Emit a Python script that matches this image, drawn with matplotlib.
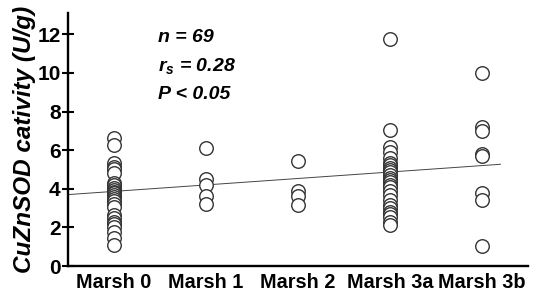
import matplotlib
matplotlib.use("Agg")
import matplotlib.pyplot as plt

categories = ["Marsh 0", "Marsh 1", "Marsh 2", "Marsh 3a", "Marsh 3b"]
marsh0 = [6.64, 6.29, 5.31, 5.15, 5.02, 4.79, 4.3, 4.19, 4.05, 3.93, 3.85, 3.76, 3.67,
          3.59, 3.45, 3.36, 3.2, 3.07, 2.64, 2.5, 2.29, 2.15, 2.03, 1.78, 1.43, 1.09]
marsh1 = [6.1, 4.5, 4.2, 3.6, 3.2]
marsh2 = [5.45, 3.9, 3.6, 3.15]
marsh3a = [11.74, 7.05, 6.17, 5.91, 5.57, 5.35, 5.22, 5.1, 4.97, 4.85, 4.7, 4.55, 4.45,
           4.36, 4.2, 4.1, 3.9, 3.67, 3.4, 3.16, 3.0, 2.81, 2.7, 2.55, 2.3, 2.12]
marsh3b = [10.0, 7.2, 7.0, 5.8, 5.7, 3.8, 3.4, 1.05]
groups = [marsh0, marsh1, marsh2, marsh3a, marsh3b]

fit_intercept = 3.53
fit_slope = 0.334
fit_x_range = [0.5, 5.2]

yticks = [0, 2, 4, 6, 8, 10, 12]

plt.rcParams['font.family'] = ['Liberation Sans', 'DejaVu Sans']
plt.rcParams['mathtext.fontset'] = 'custom'
plt.rcParams['mathtext.rm'] = 'Liberation Sans:italic:bold'
plt.rcParams['mathtext.it'] = 'Liberation Sans:italic:bold'
plt.rcParams['mathtext.bf'] = 'Liberation Sans:italic:bold'

fig = plt.figure(figsize=(5.41, 2.91), dpi=100)
ax = fig.add_axes([0.1257, 0.0859, 0.976 - 0.1257, 0.9553 - 0.0859])

for i, vals in enumerate(groups):
    ax.scatter([i + 1] * len(vals), vals, s=95, facecolors='white',
               edgecolors='#333333', linewidths=1.0, zorder=3)

lx = fit_x_range
ly = [fit_intercept + fit_slope * x for x in lx]
ax.plot(lx, ly, color='#444444', linewidth=0.7, zorder=2)

ax.set_xlim(0.5, 5.5)
ax.set_ylim(0, 13.1)
ax.set_xticks(range(1, len(categories) + 1))
ax.set_xticklabels(categories, fontsize=14.3, fontweight='bold')
ax.set_yticks(yticks)
ax.set_yticklabels([str(t) for t in yticks], fontsize=15, fontweight='bold')
ax.tick_params(axis='x', length=0, pad=5)
ax.tick_params(axis='y', direction='inout', length=8.5, width=1.5, pad=1)

for s in ['top', 'right']:
    ax.spines[s].set_visible(False)
for s in ['left', 'bottom']:
    ax.spines[s].set_linewidth(1.7)

ax.set_ylabel("CuZnSOD cativity (U/g)", fontsize=17.5, fontweight='bold',
              style='italic', labelpad=1)

fig.text(158 / 541, 1 - 38 / 291, "n = 69", fontsize=14, fontweight='bold', style='italic',
         va='center', ha='left')
fig.text(158 / 541, 1 - 66 / 291, "$r_s$ = 0.28", fontsize=14, fontweight='bold', style='italic',
         va='center', ha='left')
fig.text(158 / 541, 1 - 95 / 291, "P < 0.05", fontsize=14, fontweight='bold', style='italic',
         va='center', ha='left')

fig.savefig("out.png", dpi=100)
